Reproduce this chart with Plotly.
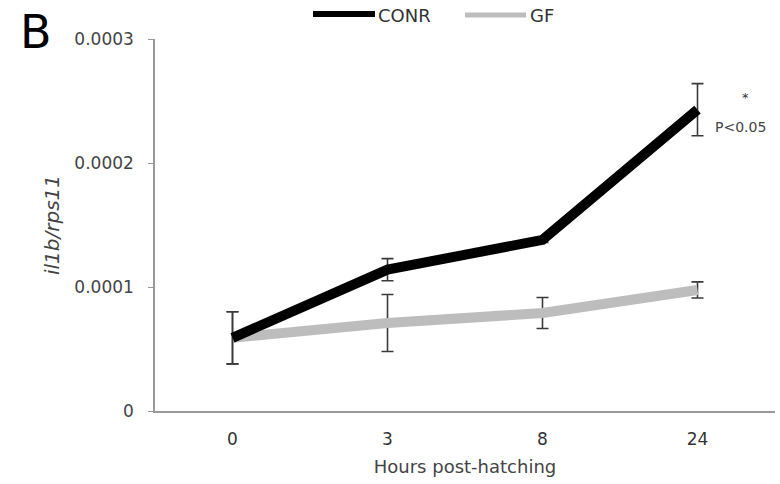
import plotly.graph_objects as go

hours = ["0", "3", "8", "24"]
conr = [0.000059, 0.000114, 0.000138, 0.000243]
conr_err = [0.000021, 0.0000089, 0.000002, 0.000021]
gf = [0.000059, 0.000071, 0.000079, 0.0000976]
gf_err = [0.000021, 0.000023, 0.0000125, 0.0000065]
y_ticks = [0, 0.0001, 0.0002, 0.0003]
y_tick_text = ["0", "0.0001", "0.0002", "0.0003"]

font = "DejaVu Sans, Liberation Sans, Arial, sans-serif"
err_col = "#3a3a3a"

fig = go.Figure()
fig.add_trace(go.Scatter(
    x=hours, y=gf, mode="lines", name="GF",
    line=dict(color="#bdbdbd", width=10),
    error_y=dict(type="data", array=gf_err, visible=True, color=err_col, thickness=1.6, width=6),
    showlegend=False,
))
fig.add_trace(go.Scatter(
    x=hours, y=conr, mode="lines", name="CONR",
    line=dict(color="black", width=10),
    error_y=dict(type="data", array=conr_err, visible=True, color=err_col, thickness=1.6, width=6),
    showlegend=False,
))

PL, PW, PT, PH = 155, 620, 39, 372
def px(x):
    return (x - PL) / PW
def py(y):
    return (PT + PH - y) / PH

# legend drawn manually (longer line samples as in the reference)
fig.add_shape(type="line", xref="paper", yref="paper", x0=px(313), x1=px(375),
              y0=py(14), y1=py(14), line=dict(color="black", width=6))
fig.add_shape(type="line", xref="paper", yref="paper", x0=px(465), x1=px(526),
              y0=py(15), y1=py(15), line=dict(color="#bdbdbd", width=5))
fig.add_annotation(xref="paper", yref="paper", x=px(376), y=py(15), text="CONR",
                   showarrow=False, xanchor="left", yanchor="middle",
                   font=dict(family=font, size=18, color="#333"))
fig.add_annotation(xref="paper", yref="paper", x=px(528), y=py(15), text="GF",
                   showarrow=False, xanchor="left", yanchor="middle",
                   font=dict(family=font, size=18, color="#333"))

# panel letter
fig.add_annotation(xref="paper", yref="paper", x=px(18), y=py(32), text="B",
                   showarrow=False, xanchor="left", yanchor="middle",
                   font=dict(family=font, size=46, color="black"))

# significance
fig.add_annotation(xref="paper", yref="paper", x=px(745), y=py(97), text="*",
                   showarrow=False, xanchor="center", yanchor="middle",
                   font=dict(family=font, size=13, color="#333"))
fig.add_annotation(xref="paper", yref="paper", x=px(713), y=py(127), text="P<0.05",
                   showarrow=False, xanchor="left", yanchor="middle",
                   font=dict(family=font, size=14, color="#444"))

fig.update_layout(
    width=780, height=484,
    margin=dict(l=PL, r=780 - PL - PW, t=PT, b=484 - PT - PH),
    paper_bgcolor="white", plot_bgcolor="white",
    font=dict(family=font, color="#444"),
    showlegend=False,
)
fig.update_xaxes(
    type="category", range=[-0.5, 3.5],
    showline=True, linecolor="#999", linewidth=2,
    showgrid=False, ticks="", tickfont=dict(size=17, color="#333"),
    ticklabelstandoff=12,
    title=dict(text="Hours post-hatching", font=dict(size=18, color="#444"), standoff=12),
)
fig.update_yaxes(
    range=[0, 0.0003], tickvals=y_ticks, ticktext=y_tick_text,
    showline=True, linecolor="#999", linewidth=1.5,
    showgrid=False, zeroline=False, ticks="outside", ticklen=5, tickcolor="#999",
    tickfont=dict(size=17, color="#444"), ticklabelstandoff=11,
    title=dict(text="<i>il1b/rps11</i>", font=dict(size=20, color="#444"), standoff=9),
)

fig.write_html("out.html")
